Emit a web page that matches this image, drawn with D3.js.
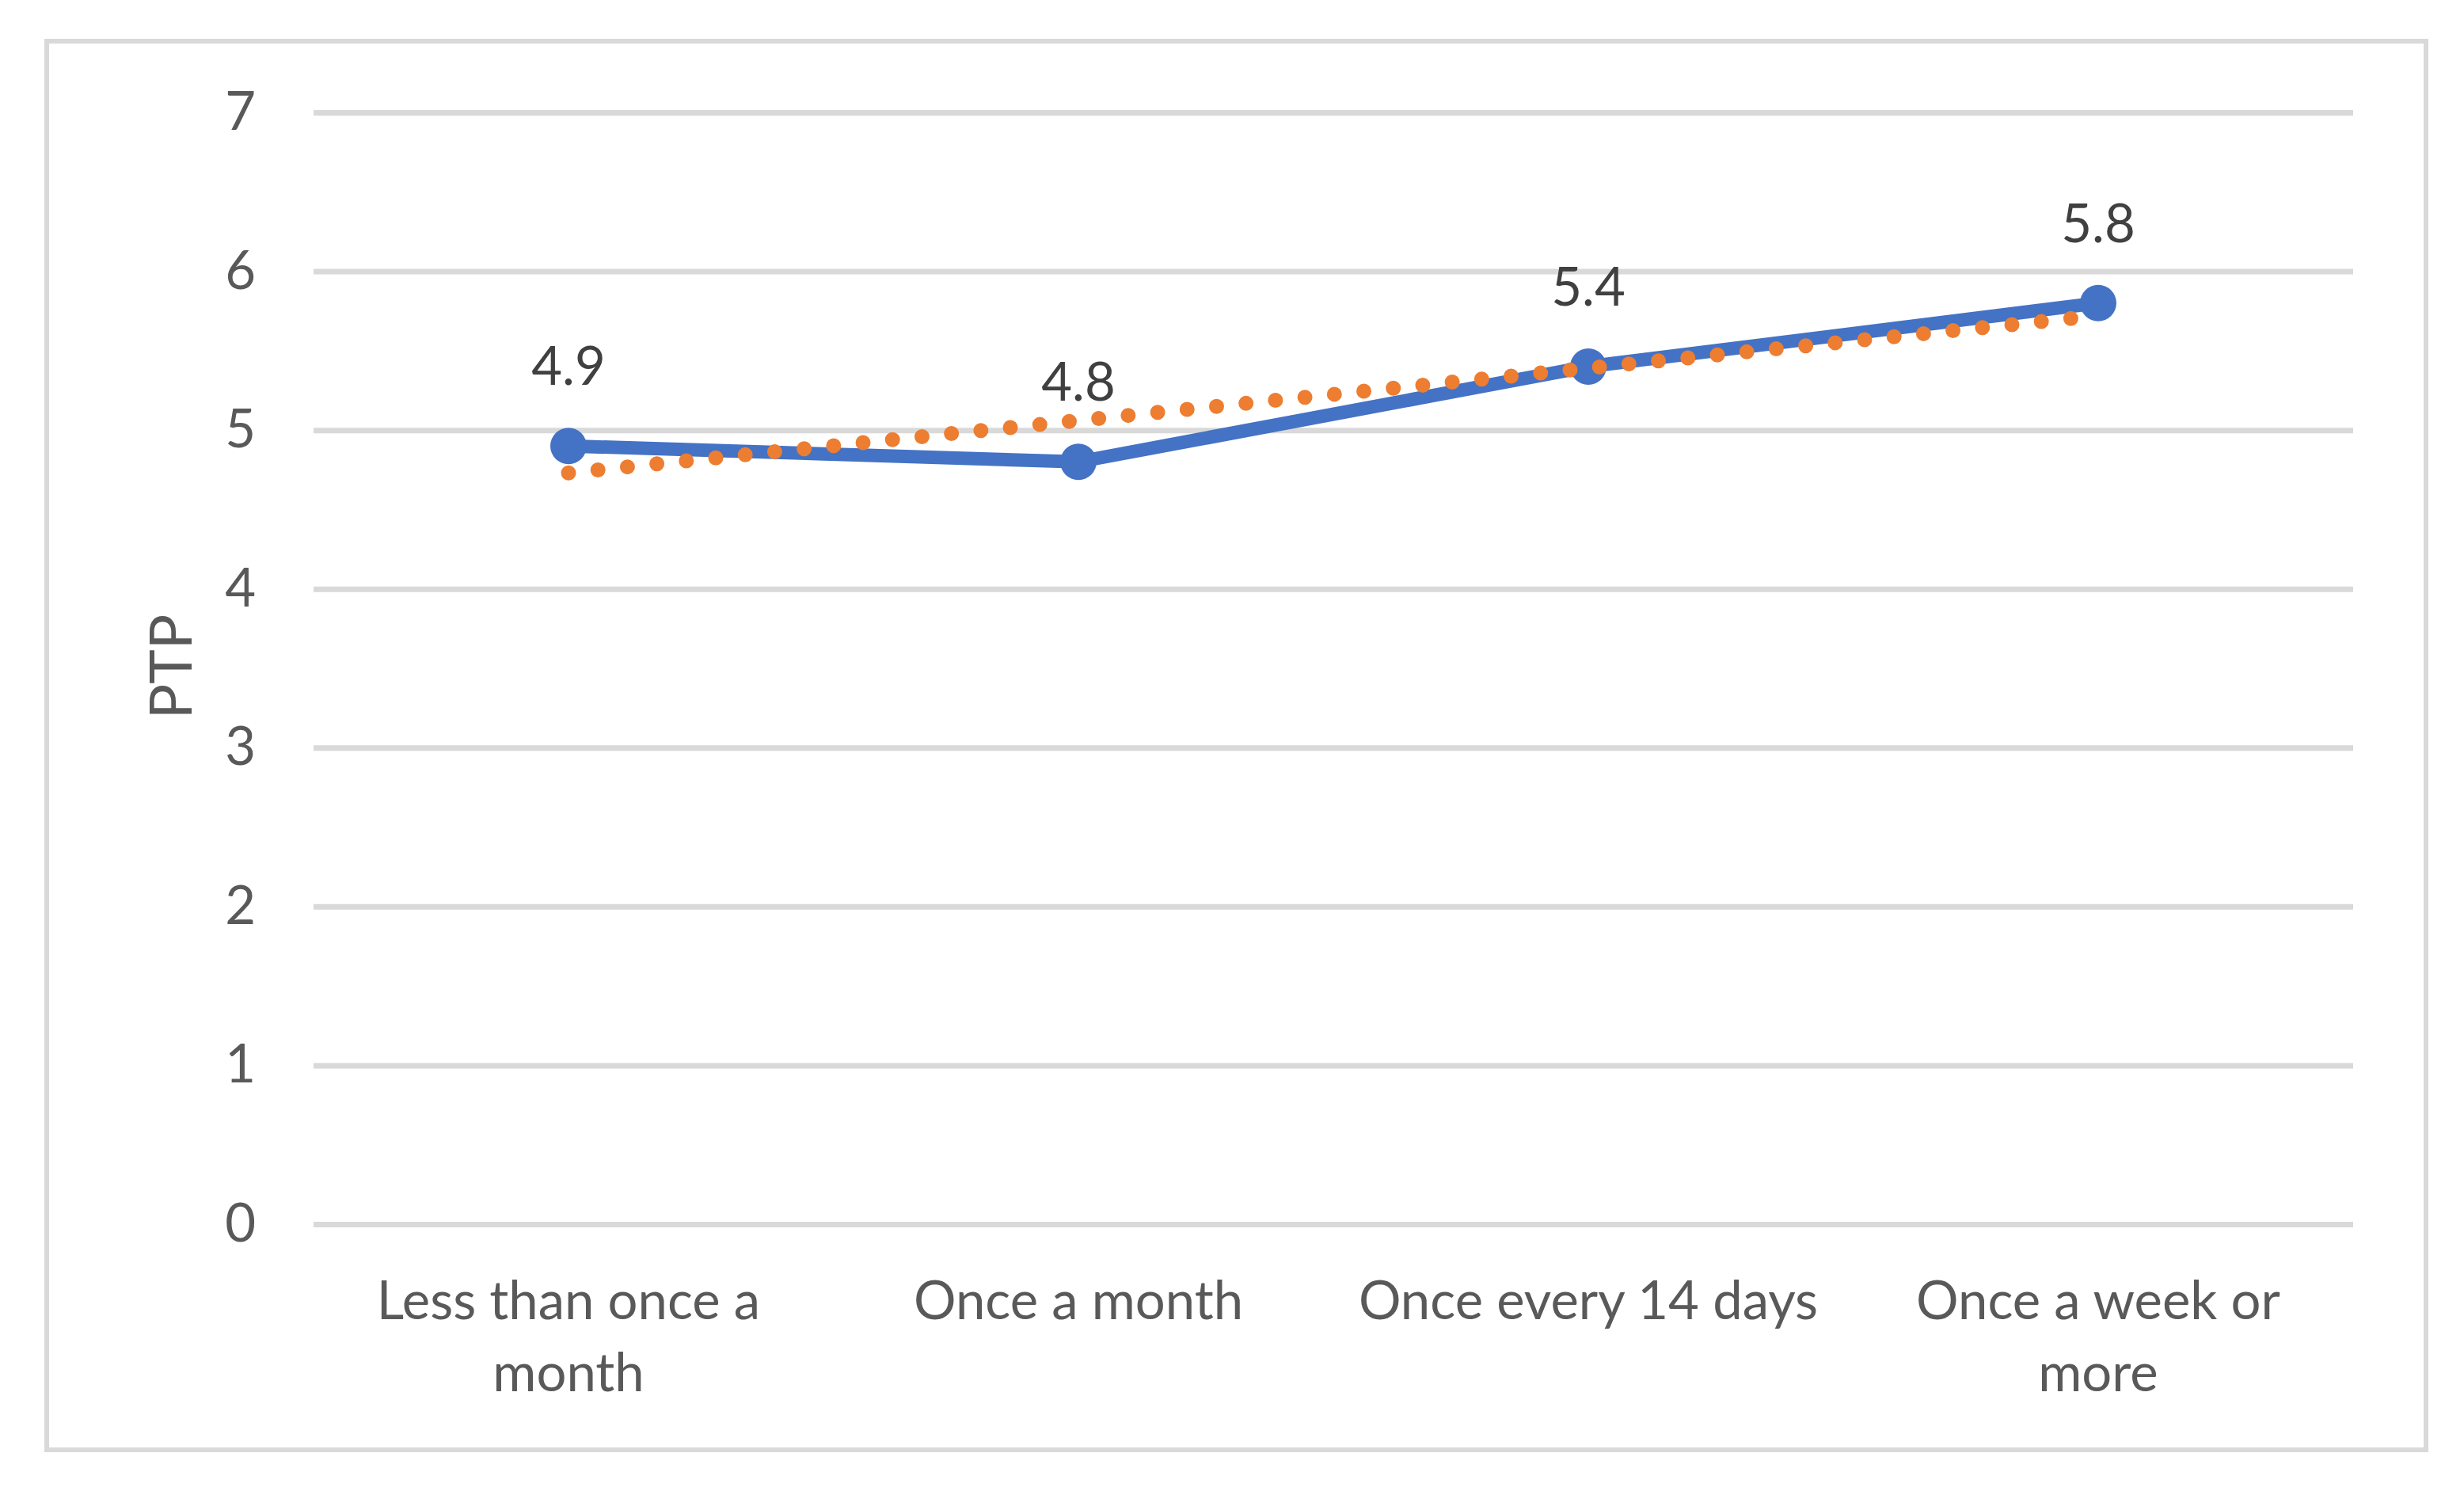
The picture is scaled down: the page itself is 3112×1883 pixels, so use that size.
<!DOCTYPE html>
<html>
<head>
<meta charset="utf-8">
<script src="https://cdn.jsdelivr.net/npm/d3@7"></script>
<style>
  html, body { margin: 0; padding: 0; background: #ffffff; }
  svg { display: block; }
  text { font-family: Lato, "Open Sans", sans-serif; }
</style>
</head>
<body>
<script>
// ---- data ----
const categories = ["Less than once a month", "Once a month", "Once every 14 days", "Once a week or more"];
const ptpValues = [4.9, 4.8, 5.4, 5.8];
const trendValues = [4.73, 5.06, 5.39, 5.72];   // linear trendline
const yTicks = [0, 1, 2, 3, 4, 5, 6, 7];
const yTitle = "PTP";

// ---- layout ----
const W = 3112, H = 1883;
const plot = { left: 396, right: 2972, top: 142, bottom: 1546 };

const svg = d3.select("body").append("svg")
  .attr("width", W).attr("height", H);

svg.append("rect").attr("width", W).attr("height", H).attr("fill", "#ffffff");

// chart border
svg.append("rect")
  .attr("x", 59).attr("y", 52)
  .attr("width", 3005).attr("height", 1779)
  .attr("fill", "none").attr("stroke", "#d9d9d9").attr("stroke-width", 6);

const x = d3.scaleBand().domain(categories).range([plot.left, plot.right]).padding(0);
const y = d3.scaleLinear().domain([0, 7]).range([plot.bottom, plot.top]);
const cx = d => x(d) + x.bandwidth() / 2;

// y axis with gridlines
const yAxis = svg.append("g")
  .attr("transform", `translate(${plot.left},0)`)
  .call(d3.axisLeft(y).tickValues(yTicks).tickSizeInner(-(plot.right - plot.left)).tickSizeOuter(0).tickPadding(73).tickFormat(d3.format("d")));
yAxis.select(".domain").remove();
yAxis.selectAll(".tick line").attr("stroke", "#d9d9d9").attr("stroke-width", 7);
yAxis.selectAll(".tick text")
  .attr("fill", "#595959").attr("font-size", 67)
  .attr("dy", "0.32em");

// x axis labels
const xAxis = svg.append("g")
  .attr("transform", `translate(0,${plot.bottom})`)
  .call(d3.axisBottom(x).tickSize(0).tickPadding(0));
xAxis.select(".domain").remove();
xAxis.selectAll(".tick text")
  .attr("fill", "#595959").attr("font-size", 67)
  .attr("y", 0).attr("dy", 0)
  .each(function(d) {
    const t = d3.select(this);
    const words = d.split(" ");
    t.text(null);
    const maxW = 600;
    let lines = [], cur = [];
    const probe = t.append("tspan");
    words.forEach(w => {
      const test = cur.concat([w]).join(" ");
      probe.text(test);
      if (probe.node().getComputedTextLength() > maxW && cur.length) {
        lines.push(cur.join(" "));
        cur = [w];
      } else cur.push(w);
    });
    lines.push(cur.join(" "));
    probe.remove();
    lines.forEach((ln, i) => {
      t.append("tspan").attr("x", 0).attr("y", 120 + i * 91).text(ln);
    });
  });

// y axis title
svg.append("text")
  .attr("transform", `translate(${242},${842}) rotate(-90)`)
  .attr("text-anchor", "middle")
  .attr("fill", "#595959").attr("font-size", 74)
  .text(yTitle);

// data line
const line = d3.line().x((d, i) => cx(categories[i])).y(d => y(d));
svg.append("path")
  .datum(ptpValues)
  .attr("d", line)
  .attr("fill", "none").attr("stroke", "#4472c4").attr("stroke-width", 17)
  .attr("stroke-linejoin", "round");

svg.selectAll("circle.marker")
  .data(ptpValues).join("circle")
  .attr("class", "marker")
  .attr("cx", (d, i) => cx(categories[i]))
  .attr("cy", d => y(d))
  .attr("r", 23)
  .attr("fill", "#4472c4");

// trendline (round dots)
svg.append("path")
  .datum(trendValues)
  .attr("d", line)
  .attr("fill", "none").attr("stroke", "#ed7d31").attr("stroke-width", 19)
  .attr("stroke-linecap", "round")
  .attr("stroke-dasharray", "0 37.4");

// data labels
svg.selectAll("text.dlabel")
  .data(ptpValues).join("text")
  .attr("class", "dlabel")
  .attr("x", (d, i) => cx(categories[i]))
  .attr("y", d => y(d) - 77)
  .attr("text-anchor", "middle")
  .attr("fill", "#404040").attr("font-size", 67)
  .text(d => d3.format(".1f")(d));
</script>
</body>
</html>
